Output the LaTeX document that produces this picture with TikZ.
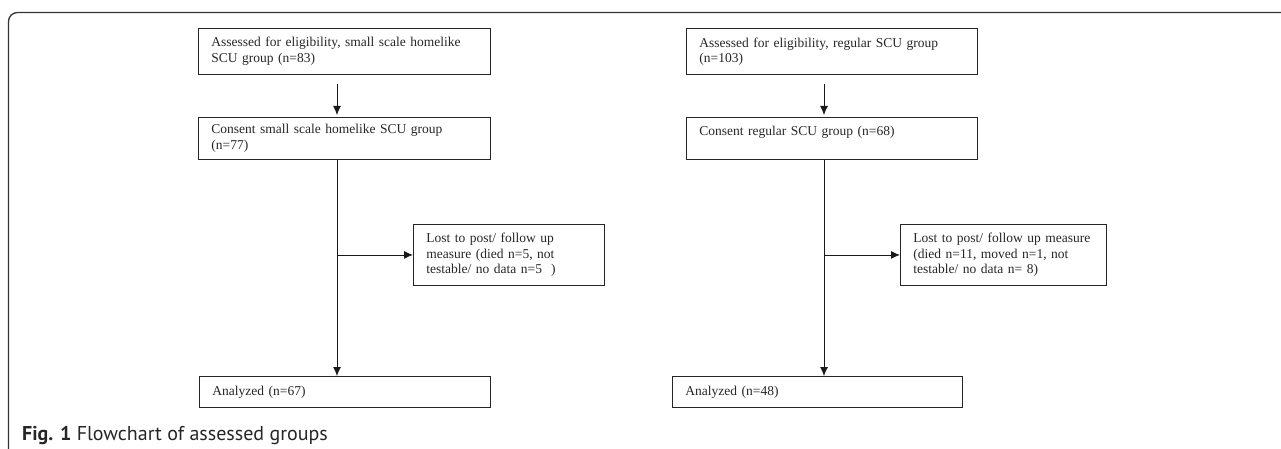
\documentclass[tikz,border=0pt]{standalone}
\usepackage{fontspec}
\setmainfont{Liberation Serif}
\setsansfont{PT Sans}
\usetikzlibrary{arrows.meta}

\tikzset{
    flowbox/.style={draw=black!85, line width=0.9pt, align=left, anchor=north west,
        inner xsep=13pt, inner ysep=0pt, text=black!85,
        font=\fontsize{13.5}{15.5}\selectfont},
    flowarrow/.style={line width=0.9pt, draw=black!90, -{Latex[length=9pt, width=8pt]}},
}

\begin{document}
\begin{tikzpicture}[x=1pt, y=-1pt]
        \useasboundingbox (0, 0) rectangle (1281, 449);
        \draw[line width=1.3pt, black!80, rounded corners=9pt] (8.5, 449) -- (8.5, 12.5) -- (1281, 12.5);
        \coordinate (spineL) at (337, 0);
        \coordinate (spineR) at (824, 0);
        \node[flowbox, text width=266pt, minimum height=46pt] (assessL) at (198, 28) {\mbox{Assessed for eligibility, small scale homelike}\\SCU group (n=83)};
        \node[flowbox, text width=266pt, minimum height=42pt] (consentL) at (198, 117) {Consent small scale homelike SCU group\\(n=77)};
        \node[flowbox, text width=165pt, minimum height=61pt] (lostL) at (413, 224) {Lost to post/ follow up\\measure (died n=5, not\\testable/ no data n=5~~)};
        \node[flowbox, text width=265pt, minimum height=31pt] (analyzedL) at (199, 376) {Analyzed (n=67)};
        \node[flowbox, text width=265pt, minimum height=46pt] (assessR) at (686, 28) {Assessed for eligibility, regular SCU group\\(n=103)};
        \node[flowbox, text width=265pt, minimum height=42pt] (consentR) at (686, 117) {Consent regular SCU group (n=68)\\\mbox{}};
        \node[flowbox, text width=180pt, minimum height=61pt] (lostR) at (900, 224) {\mbox{Lost to post/ follow up measure}\\(died n=11, moved n=1, not\\testable/ no data n= 8)};
        \node[flowbox, text width=264pt, minimum height=31pt] (analyzedR) at (672, 376) {Analyzed (n=48)};
        \draw[flowarrow, shorten <=9pt, shorten >=2pt] (assessL.south -| spineL) -- (consentL.north -| spineL);
        \draw[flowarrow] (consentL.south -| spineL) -- (analyzedL.north -| spineL);
        \draw[flowarrow] (lostL.west -| spineL) -- (lostL.west);
        \draw[flowarrow, shorten <=9pt, shorten >=2pt] (assessR.south -| spineR) -- (consentR.north -| spineR);
        \draw[flowarrow] (consentR.south -| spineR) -- (analyzedR.north -| spineR);
        \draw[flowarrow] (lostR.west -| spineR) -- (lostR.west);
        \node[anchor=base west, inner sep=0pt, text=black!85, font=\sffamily\fontsize{20}{24}\selectfont] (caption) at (22, 440) {\textbf{Fig. 1} Flowchart of assessed groups};
\end{tikzpicture}
\end{document}
